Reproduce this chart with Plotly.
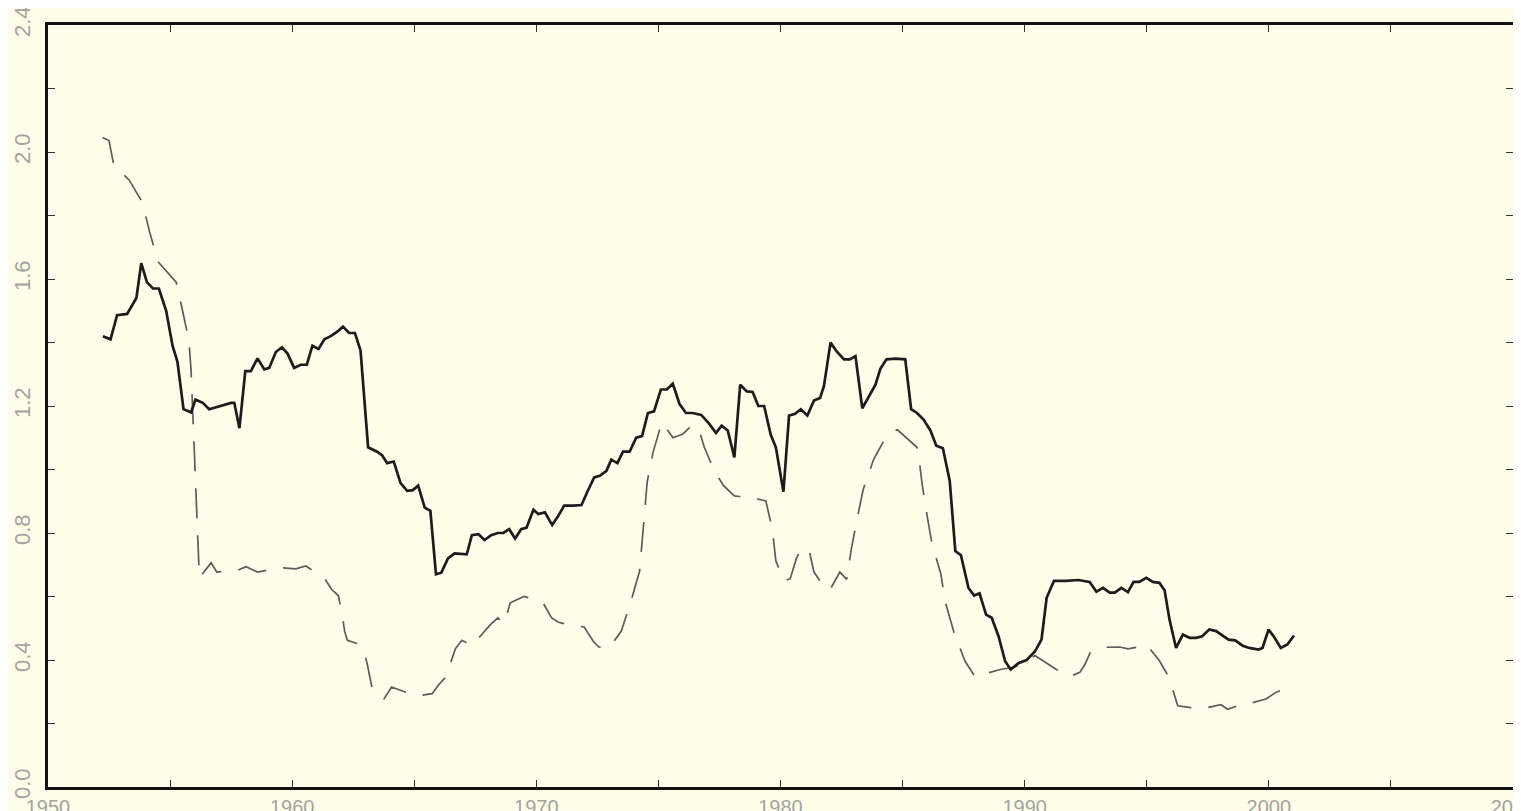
import plotly.graph_objects as go

# solid series
solid_years = [
    1952.25, 1952.56, 1952.83, 1953.24, 1953.62, 1953.82, 1954.05, 1954.30, 1954.54, 1954.84,
    1955.10, 1955.30, 1955.55, 1955.86, 1956.04, 1956.34, 1956.60, 1957.09, 1957.50, 1957.63,
    1957.84, 1958.08, 1958.31, 1958.58, 1958.86, 1959.06, 1959.33, 1959.58, 1959.81, 1960.08,
    1960.35, 1960.60, 1960.83, 1961.08, 1961.32, 1961.58, 1961.86, 1962.08, 1962.33, 1962.57,
    1962.80, 1963.11, 1963.48, 1963.69, 1963.89, 1964.16, 1964.44, 1964.71, 1964.94, 1965.16,
    1965.43, 1965.66, 1965.89, 1966.11, 1966.38, 1966.65, 1966.93, 1967.15, 1967.36, 1967.63,
    1967.88, 1968.15, 1968.42, 1968.65, 1968.89, 1969.13, 1969.38, 1969.60, 1969.88, 1970.08,
    1970.35, 1970.65, 1970.90, 1971.14, 1971.51, 1971.85, 1972.09, 1972.37, 1972.60, 1972.87,
    1973.07, 1973.32, 1973.55, 1973.82, 1974.09, 1974.33, 1974.57, 1974.82, 1975.10, 1975.34,
    1975.59, 1975.86, 1976.13, 1976.40, 1976.75, 1977.05, 1977.36, 1977.59, 1977.84, 1978.11,
    1978.35, 1978.62, 1978.86, 1979.09, 1979.33, 1979.60, 1979.81, 1979.94, 1980.12, 1980.35,
    1980.58, 1980.83, 1981.10, 1981.37, 1981.62, 1981.78, 1982.05, 1982.30, 1982.60, 1982.84,
    1983.07, 1983.35, 1983.62, 1983.89, 1984.09, 1984.34, 1984.71, 1985.11, 1985.35, 1985.59,
    1985.86, 1986.14, 1986.38, 1986.65, 1986.93, 1987.16, 1987.39, 1987.70, 1987.93, 1988.15,
    1988.42, 1988.65, 1988.93, 1989.20, 1989.43, 1989.74, 1990.08, 1990.42, 1990.69, 1990.90,
    1991.20, 1991.70, 1992.19, 1992.66, 1992.94, 1993.21, 1993.48, 1993.69, 1993.96, 1994.23,
    1994.46, 1994.70, 1994.98, 1995.25, 1995.52, 1995.73, 1995.93, 1996.20, 1996.48, 1996.75,
    1997.02, 1997.27, 1997.56, 1997.84, 1998.11, 1998.35, 1998.62, 1998.93, 1999.20, 1999.58,
    1999.74, 1999.99, 2000.21, 2000.49, 2000.76, 2001.03,
]
solid_values = [
    1.42, 1.41, 1.486, 1.49, 1.54, 1.65, 1.59, 1.57, 1.57, 1.50,
    1.39, 1.34, 1.19, 1.18, 1.22, 1.21, 1.19, 1.20, 1.21, 1.21,
    1.13, 1.31, 1.31, 1.35, 1.315, 1.32, 1.37, 1.385, 1.365, 1.32,
    1.33, 1.33, 1.39, 1.38, 1.41, 1.42, 1.435, 1.45, 1.43, 1.43,
    1.375, 1.07, 1.056, 1.044, 1.02, 1.025, 0.957, 0.933, 0.935, 0.949,
    0.88, 0.87, 0.67, 0.675, 0.72, 0.736, 0.733, 0.733, 0.793, 0.796,
    0.778, 0.793, 0.80, 0.80, 0.812, 0.783, 0.812, 0.817, 0.873, 0.86,
    0.865, 0.825, 0.854, 0.886, 0.886, 0.888, 0.93, 0.975, 0.98, 0.996,
    1.031, 1.02, 1.056, 1.056, 1.10, 1.105, 1.178, 1.183, 1.252, 1.252,
    1.27, 1.207, 1.178, 1.178, 1.172, 1.147, 1.115, 1.138, 1.123, 1.038,
    1.267, 1.246, 1.244, 1.20, 1.20, 1.109, 1.07, 1.007, 0.93, 1.17,
    1.175, 1.19, 1.17, 1.217, 1.225, 1.263, 1.40, 1.372, 1.347, 1.347,
    1.357, 1.193, 1.228, 1.267, 1.317, 1.347, 1.349, 1.347, 1.19, 1.178,
    1.157, 1.123, 1.075, 1.067, 0.965, 0.743, 0.73, 0.627, 0.603, 0.61,
    0.543, 0.533, 0.475, 0.396, 0.37, 0.39, 0.40, 0.427, 0.464, 0.596,
    0.649, 0.649, 0.652, 0.646, 0.615, 0.627, 0.612, 0.612, 0.627, 0.614,
    0.646, 0.646, 0.659, 0.646, 0.643, 0.62, 0.528, 0.438, 0.48, 0.47,
    0.47, 0.475, 0.496, 0.491, 0.477, 0.464, 0.462, 0.445, 0.438, 0.433,
    0.438, 0.496, 0.473, 0.438, 0.449, 0.477,
]

# dashed series
dashed_years = [
    1952.23, 1952.50, 1952.69, 1953.32, 1953.86, 1954.16, 1954.50, 1955.25, 1955.52, 1955.77,
    1955.86, 1955.90, 1955.96, 1956.20, 1956.68, 1956.91, 1957.50, 1957.77, 1958.11, 1958.58,
    1959.10, 1959.63, 1960.15, 1960.56, 1960.94, 1961.30, 1961.62, 1961.89, 1962.05, 1962.15,
    1962.26, 1962.67, 1962.94, 1963.07, 1963.28, 1963.76, 1964.07, 1964.60, 1965.21, 1965.73,
    1966.00, 1966.30, 1966.68, 1966.95, 1967.36, 1967.70, 1968.10, 1968.42, 1968.69, 1968.93,
    1969.50, 1970.01, 1970.29, 1970.62, 1970.90, 1971.40, 1971.96, 1972.33, 1972.56, 1973.00,
    1973.48, 1973.89, 1974.23, 1974.54, 1974.78, 1975.14, 1975.60, 1976.00, 1976.40, 1976.68,
    1976.88, 1977.10, 1977.32, 1977.67, 1978.11, 1978.31, 1978.90, 1979.40, 1979.67, 1979.81,
    1980.15, 1980.40, 1980.65, 1980.86, 1981.17, 1981.37, 1981.70, 1982.02, 1982.43, 1982.71,
    1982.90, 1983.14, 1983.39, 1983.82, 1984.30, 1984.78, 1985.32, 1985.59, 1985.66, 1985.80,
    1986.00, 1986.20, 1986.57, 1986.75, 1987.11, 1987.56, 1987.97, 1988.18, 1988.48, 1989.00,
    1989.60, 1990.08, 1990.42, 1990.79, 1991.30, 1991.85, 1992.26, 1992.46, 1992.69, 1993.30,
    1993.89, 1994.23, 1994.64, 1994.98, 1995.14, 1995.50, 1995.90, 1996.27, 1996.80, 1997.40,
    1998.04, 1998.31, 1998.72, 1999.30, 1999.88, 2000.29, 2000.56, 2001.07,
]
dashed_values = [
    2.046, 2.036, 1.96, 1.912, 1.842, 1.749, 1.655, 1.59, 1.497, 1.407,
    1.312, 1.217, 1.12, 0.659, 0.706, 0.677, 0.682, 0.683, 0.694, 0.677,
    0.685, 0.69, 0.687, 0.696, 0.677, 0.66, 0.622, 0.603, 0.543, 0.49,
    0.462, 0.452, 0.427, 0.389, 0.309, 0.277, 0.315, 0.30, 0.288, 0.294,
    0.322, 0.347, 0.435, 0.462, 0.445, 0.475, 0.51, 0.533, 0.515, 0.58,
    0.60, 0.59, 0.578, 0.533, 0.519, 0.51, 0.504, 0.459, 0.441, 0.44,
    0.491, 0.589, 0.68, 0.961, 1.054, 1.149, 1.10, 1.112, 1.141, 1.12,
    1.07, 1.03, 0.992, 0.949, 0.917, 0.915, 0.91, 0.901, 0.81, 0.712,
    0.649, 0.656, 0.72, 0.751, 0.747, 0.677, 0.64, 0.62, 0.677, 0.654,
    0.749, 0.846, 0.938, 1.033, 1.10, 1.126, 1.088, 1.07, 1.044, 0.954,
    0.856, 0.768, 0.67, 0.582, 0.486, 0.396, 0.347, 0.347, 0.359, 0.37,
    0.378, 0.396, 0.414, 0.396, 0.37, 0.348, 0.361, 0.385, 0.424, 0.44,
    0.441, 0.435, 0.441, 0.449, 0.435, 0.40, 0.347, 0.256, 0.25, 0.249,
    0.259, 0.245, 0.256, 0.265, 0.277, 0.298, 0.306, 0.308,
]

y_tickvals = [0.0, 0.4, 0.8, 1.2, 1.6, 2.0, 2.4]
x_tickvals = [1950, 1960, 1970, 1980, 1990, 2000, 2010]

bg = '#fefee8'
x_label_font = dict(family='Liberation Sans, Arial', size=20, color='#a3a3a0')
y_label_font = dict(family='Liberation Sans, Arial', size=22, color='#a3a3a0')

fig = go.Figure()
fig.add_trace(go.Scatter(
    x=dashed_years, y=dashed_values, mode='lines',
    line=dict(color='#5c5c58', width=1.7, dash='30px,17px'),
    showlegend=False
))
fig.add_trace(go.Scatter(
    x=solid_years, y=solid_values, mode='lines',
    line=dict(color='#1c1c1a', width=2.7),
    showlegend=False
))

# the page body adds an 8px offset, margins below allow for it
fig.update_layout(
    width=1521,
    height=811,
    margin=dict(l=40, r=16, t=17, b=32),
    paper_bgcolor=bg,
    plot_bgcolor=bg,
    xaxis=dict(
        range=[1950, 2010],
        tickvals=x_tickvals,
        ticks='inside',
        ticklen=7,
        tickwidth=1,
        tickcolor='#333',
        minor=dict(dtick=5, tick0=1950, ticks='inside', ticklen=7, tickwidth=1, tickcolor='#333'),
        showline=True,
        linecolor='#111',
        linewidth=2.5,
        mirror='ticks',
        showgrid=False,
        zeroline=False,
        automargin=False,
        tickfont=x_label_font,
        ticklabelstandoff=0,
        ticklabeloverflow='allow'
    ),
    yaxis=dict(
        range=[0, 2.4],
        tickvals=y_tickvals,
        tickformat='.1f',
        tickangle=-90,
        ticks='inside',
        ticklen=7,
        tickwidth=1,
        tickcolor='#333',
        minor=dict(dtick=0.2, tick0=0, ticks='inside', ticklen=7, tickwidth=1, tickcolor='#333'),
        showline=True,
        linecolor='#111',
        linewidth=2.5,
        mirror='ticks',
        showgrid=False,
        zeroline=False,
        automargin=False,
        tickfont=y_label_font,
        ticklabelstandoff=6,
        ticklabeloverflow='allow'
    )
)

fig.write_html("out.html")
